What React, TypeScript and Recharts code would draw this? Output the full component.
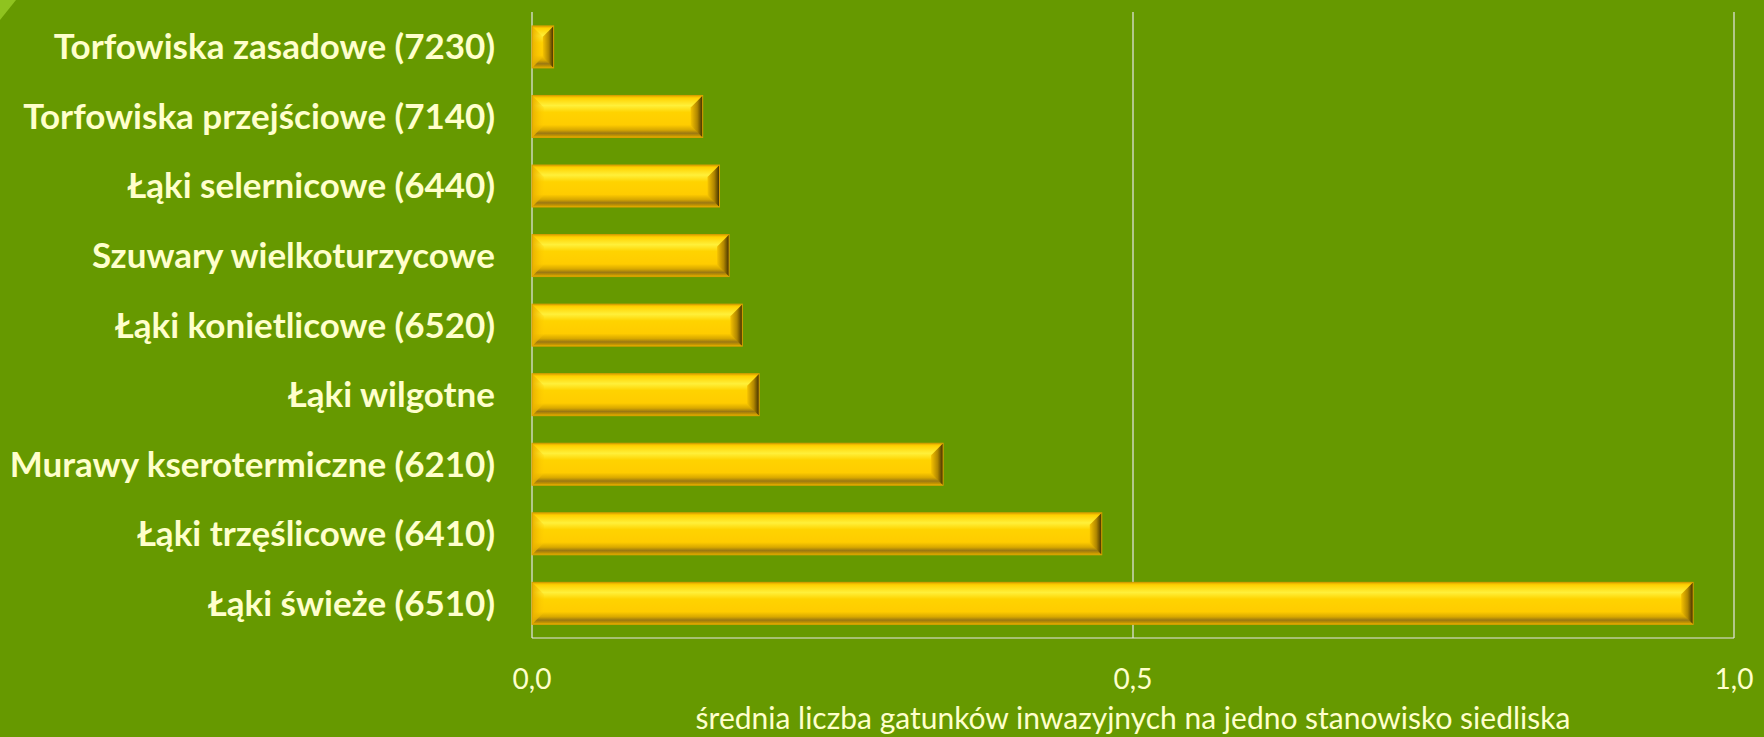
import React from "react";
import { BarChart, Bar, XAxis, YAxis, CartesianGrid, Label } from "recharts";

const categories = [
  "Torfowiska zasadowe (7230)",
  "Torfowiska przejściowe (7140)",
  "Łąki selernicowe (6440)",
  "Szuwary wielkoturzycowe ",
  "Łąki konietlicowe (6520)",
  "Łąki wilgotne",
  "Murawy kserotermiczne (6210)",
  "Łąki trzęślicowe (6410)",
  "Łąki świeże (6510)",
];
const values = [0.018, 0.142, 0.156, 0.164, 0.175, 0.189, 0.342, 0.474, 0.966];
const xTicks = [0, 0.5, 1];
const axisTitle = "średnia liczba gatunków inwazyjnych na jedno stanowisko siedliska";

const data = categories.map((name, i) => ({ name, value: values[i] }));

const FONT = "Lato, 'Open Sans', sans-serif";
const CREAM = "#FFFFCC";

const GoldBar = (props: any) => {
  const { x, y, width, height } = props;
  if (!width || width <= 0) return null;
  const b = Math.min(12, width / 2, height / 3.5);
  const r = x + width;
  const bt = y + height;
  return (
    <g>
      <rect x={x} y={y} width={width} height={height} fill="url(#goldV)" />
      <polygon
        points={`${x},${y} ${x + b},${y + b} ${x + b},${bt - b} ${x},${bt}`}
        fill="url(#goldL)"
      />
      <polygon
        points={`${r},${y} ${r - b},${y + b} ${r - b},${bt - b} ${r},${bt}`}
        fill="url(#goldR)"
      />
      <rect x={x} y={y} width={width} height={height} fill="none" stroke="#D9A000" strokeWidth={1} />
    </g>
  );
};

const YTick = (props: any) => {
  const { x, y, payload } = props;
  return (
    <text
      x={x}
      y={y}
      dy="0.36em"
      textAnchor="end"
      fill={CREAM}
      fontSize={35}
      fontWeight={700}
      fontFamily={FONT}
    >
      {payload.value}
    </text>
  );
};

const XTick = (props: any) => {
  const { x, y, payload } = props;
  return (
    <text
      x={x}
      y={y}
      dy="0.36em"
      textAnchor="middle"
      fill={CREAM}
      fontSize={28}
      fontFamily={FONT}
    >
      {payload.value.toFixed(1).replace(".", ",")}
    </text>
  );
};

export default function App() {
  return (
    <div
      style={{
        position: "absolute",
        left: 0,
        top: 0,
        width: 1764,
        height: 737,
        background: "#669900",
        overflow: "hidden",
      }}
    >
      <svg width={0} height={0} style={{ position: "absolute" }}>
        <defs>
          <linearGradient id="goldV" x1="0" y1="0" x2="0" y2="1">
            <stop offset="0%" stopColor="#E0A400" />
            <stop offset="6%" stopColor="#FFD200" />
            <stop offset="24%" stopColor="#FFF03A" />
            <stop offset="40%" stopColor="#FFD300" />
            <stop offset="70%" stopColor="#FFCC00" />
            <stop offset="82%" stopColor="#D8A800" />
            <stop offset="90%" stopColor="#9A7812" />
            <stop offset="96%" stopColor="#C39500" />
            <stop offset="100%" stopColor="#F0B600" />
          </linearGradient>
          <linearGradient id="goldL" x1="0" y1="0" x2="1" y2="0">
            <stop offset="0%" stopColor="#E8B000" />
            <stop offset="100%" stopColor="#FFCC00" stopOpacity={0.2} />
          </linearGradient>
          <linearGradient id="goldR" x1="0" y1="0" x2="1" y2="0">
            <stop offset="0%" stopColor="#F5C200" />
            <stop offset="55%" stopColor="#B08600" />
            <stop offset="100%" stopColor="#3E2E00" />
          </linearGradient>
        </defs>
      </svg>
      <div
        style={{
          position: "absolute",
          left: 0,
          top: 0,
          width: 0,
          height: 0,
          borderTop: "20px solid #8FC31F",
          borderRight: "16px solid transparent",
        }}
      />
      <BarChart
        width={1764}
        height={737}
        data={data}
        layout="vertical"
        margin={{ top: 12, right: 30, bottom: 0, left: 0 }}
        barCategoryGap="20%"
        style={{ fontFamily: FONT }}
      >
        <CartesianGrid horizontal={false} vertical={true} stroke="#E6E6E6" strokeWidth={1.2} />
        <XAxis
          type="number"
          domain={[0, 1]}
          ticks={xTicks}
          height={99}
          tickLine={false}
          tickMargin={35}
          axisLine={{ stroke: "#E6E6E6", strokeWidth: 1.2 }}
          tick={<XTick />}
          interval={0}
        >
          <Label
            value={axisTitle}
            position="insideBottom"
            offset={8}
            fill={CREAM}
            fontSize={30}
            fontFamily={FONT}
          />
        </XAxis>
        <YAxis
          type="category"
          dataKey="name"
          width={532}
          tickLine={false}
          axisLine={false}
          tickMargin={31}
          tick={<YTick />}
          interval={0}
        />
        <Bar dataKey="value" isAnimationActive={false} shape={<GoldBar />} />
      </BarChart>
    </div>
  );
}
